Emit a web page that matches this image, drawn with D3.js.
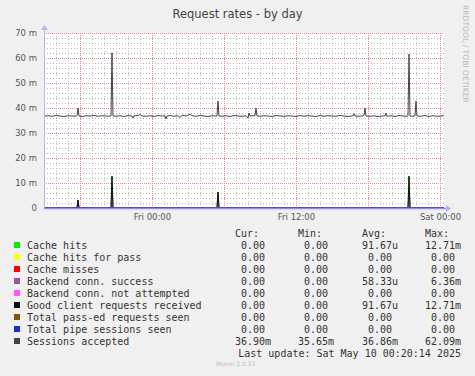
<!DOCTYPE html>
<html>
<head>
<meta charset="utf-8">
<script src="https://cdn.jsdelivr.net/npm/d3@7"></script>
<style>
  html, body { margin: 0; padding: 0; background: #f0f0f0; }
  svg { display: block; }
</style>
</head>
<body>
<svg id="chart"></svg>
<script>
// time axis: minutes after Thu 15:00, 5 min per sample
const startTime = new Date(2025, 4, 8, 15, 0);
const spanMinutes = 2000;

// Sessions accepted (values in milli req/s), [minute, value]
const sessionsAccepted = [
  [0,36.8],[20,36.9],[40,36.7],[60,37.0],[80,36.8],[100,36.6],[120,36.9],[140,36.8],[160,36.7],
  [165,36.9],[170,40.0],[175,36.8],[190,36.6],[210,36.9],[230,36.8],[250,37.0],[270,36.7],[290,36.9],
  [310,36.8],[330,36.7],[335,36.9],[340,62.09],[345,36.8],[360,36.7],[380,36.9],[400,36.6],[420,37.0],
  [440,36.8],[445,36.0],[450,36.9],[470,37.0],[480,37.4],[490,36.8],[510,36.7],[530,36.9],[550,36.6],
  [570,37.0],[590,36.8],[605,36.9],[610,35.65],[615,36.8],[630,37.0],[650,36.7],[670,36.9],[680,36.2],
  [690,37.1],[710,36.8],[730,37.5],[740,36.9],[760,36.7],[780,37.0],[800,36.8],[820,36.6],[840,36.9],
  [860,36.8],[865,36.9],[870,42.8],[875,36.8],[890,36.7],[910,36.9],[930,36.6],[950,37.0],[970,36.8],
  [990,36.7],[1010,36.9],[1020,36.0],[1025,38.0],[1030,36.8],[1045,36.9],[1055,37.0],[1060,40.0],
  [1065,36.8],[1080,36.7],[1100,36.9],[1120,36.8],[1140,36.6],[1160,37.0],[1180,36.8],[1200,36.7],
  [1220,36.9],[1240,36.8],[1260,36.6],[1280,37.0],[1300,36.7],[1320,36.9],[1340,36.8],[1360,36.6],
  [1380,37.0],[1400,36.7],[1420,36.9],[1440,36.8],[1460,36.7],[1480,37.0],[1500,36.8],[1520,36.6],
  [1545,36.9],[1550,37.7],[1555,36.8],[1575,36.7],[1595,36.9],[1600,37.1],[1605,40.0],[1610,36.8],
  [1630,36.7],[1650,36.9],[1670,36.6],[1690,36.8],[1705,36.9],[1710,38.0],[1715,36.7],[1735,36.9],
  [1755,36.6],[1775,37.0],[1795,36.8],[1815,36.7],[1820,36.9],[1825,61.6],[1830,36.8],[1840,36.7],
  [1855,36.9],[1860,42.8],[1865,36.8],[1885,36.7],[1905,37.0],[1925,36.6],[1945,36.9],[1965,36.7],
  [1985,36.8],[2000,36.9]
];

const clientRequests = [
  [0,0],[165,0],[170,3.2],[175,0],[335,0],[340,12.71],[345,0],[865,0],[870,6.36],[875,0],
  [1820,0],[1825,12.71],[1830,0],[2000,0]
];
const cacheHits = [
  [0,0],[165,0],[170,3.2],[175,0],[335,0],[340,12.71],[345,0],[865,0],[870,6.36],[875,0],
  [1820,0],[1825,12.71],[1830,0],[2000,0]
];
const backendConnSuccess = [
  [0,0],[165,0],[170,3.2],[175,0],[335,0],[340,6.36],[345,0],[865,0],[870,6.36],[875,0],
  [1820,0],[1825,6.36],[1830,0],[2000,0]
];
const flatZero = [[0,0],[2000,0]];

const seriesNames = [
  "Cache hits", "Cache hits for pass", "Cache misses", "Backend conn. success",
  "Backend conn. not attempted", "Good client requests received",
  "Total pass-ed requests seen", "Total pipe sessions seen", "Sessions accepted"
];
const seriesColors = [
  "#00ee00", "#ffff00", "#ff0000", "#995599", "#ff55ff", "#111111", "#7a5a0a", "#1d2bdf", "#444444"
];
const seriesData = [
  cacheHits, flatZero, flatZero, backendConnSuccess, flatZero,
  clientRequests, flatZero, flatZero, sessionsAccepted
];
const curValues = ["0.00","0.00","0.00","0.00","0.00","0.00","0.00","0.00","36.90m"];
const minValues = ["0.00","0.00","0.00","0.00","0.00","0.00","0.00","0.00","35.65m"];
const avgValues = ["91.67u","0.00","0.00","58.33u","0.00","91.67u","0.00","0.00","36.86m"];
const maxValues = ["12.71m","0.00","0.00","6.36m","0.00","12.71m","0.00","0.00","62.09m"];

const yTickValues = [0, 10, 20, 30, 40, 50, 60, 70];

const W = 475, H = 376;
const plot = { left: 44, right: 444, top: 33, bottom: 208 };

const svg = d3.select("#chart").attr("width", W).attr("height", H);
svg.append("rect").attr("width", W).attr("height", H).attr("fill", "#f0f0f0");

const x = d3.scaleTime()
  .domain([startTime, d3.timeMinute.offset(startTime, spanMinutes)])
  .range([plot.left, plot.right]);
const y = d3.scaleLinear().domain([0, 70]).range([plot.bottom, plot.top]);

// plot canvas
svg.append("rect")
  .attr("x", plot.left).attr("y", plot.top)
  .attr("width", plot.right - plot.left).attr("height", plot.bottom - plot.top)
  .attr("fill", "#ffffff");

const grid = svg.append("g");
const endTime = d3.timeMinute.offset(startTime, spanMinutes);

function hLines(values, color, dash) {
  grid.append("g").selectAll("line").data(values).join("line")
    .attr("x1", plot.left).attr("x2", plot.right)
    .attr("y1", d => Math.round(y(d)) + 0.5).attr("y2", d => Math.round(y(d)) + 0.5)
    .attr("stroke", color).attr("stroke-width", 1).attr("stroke-dasharray", dash);
}
function vLines(values, color, dash) {
  grid.append("g").selectAll("line").data(values).join("line")
    .attr("x1", d => Math.round(x(d)) + 0.5).attr("x2", d => Math.round(x(d)) + 0.5)
    .attr("y1", plot.top).attr("y2", plot.bottom)
    .attr("stroke", color).attr("stroke-width", 1).attr("stroke-dasharray", dash);
}

// minor grid: every 2 m and every hour
hLines(d3.range(2, 70, 2).filter(v => v % 10 !== 0), "#b4b4b4", "1,2");
vLines(d3.timeHour.every(1).range(startTime, endTime).filter(d => d.getHours() % 6 !== 0), "#c0c0c0", "1,2");
// major grid: every 10 m and every 6 hours
hLines(yTickValues.slice(1), "#e38d8d", "1,1");
vLines(d3.timeHour.every(6).range(startTime, endTime), "#e38d8d", "1,1");

// y labels
svg.append("g")
  .attr("transform", `translate(${plot.left},0)`)
  .call(d3.axisLeft(y).tickValues(yTickValues).tickSize(0).tickPadding(7)
    .tickFormat(d => d === 0 ? "0" : `${d} m`))
  .call(g => g.select(".domain").remove())
  .call(g => g.selectAll("text")
    .attr("font-family", "DejaVu Sans").attr("font-size", 8.5).attr("fill", "#555"));

// x labels
svg.append("g")
  .attr("transform", `translate(0,${plot.bottom})`)
  .call(d3.axisBottom(x).ticks(d3.timeHour.every(12)).tickSize(0).tickPadding(6)
    .tickFormat(d3.timeFormat("%a %H:%M")))
  .call(g => g.select(".domain").remove())
  .call(g => g.selectAll("text")
    .attr("font-family", "DejaVu Sans").attr("font-size", 8.5).attr("fill", "#555"));

// series lines
const line = d3.line()
  .x(d => x(d3.timeMinute.offset(startTime, d[0])))
  .y(d => y(d[1]));

const lines = svg.append("g");
seriesData.forEach((data, i) => {
  lines.append("path")
    .datum(data)
    .attr("fill", "none")
    .attr("stroke", seriesColors[i])
    .attr("stroke-width", 1)
    .attr("d", line);
});

// axes with arrows, drawn over the data like rrdtool does
const xAxisColor = "#8a8af0";
const yAxisColor = "#b4b4f2";
svg.append("line")
  .attr("x1", plot.left + 0.5).attr("x2", plot.left + 0.5)
  .attr("y1", plot.bottom).attr("y2", plot.top - 4)
  .attr("stroke", yAxisColor);
svg.append("path")
  .attr("d", `M${plot.left - 3},${plot.top - 3}L${plot.left + 0.5},${plot.top - 8}L${plot.left + 4},${plot.top - 3}Z`)
  .attr("fill", yAxisColor);
svg.append("line")
  .attr("x1", plot.left).attr("x2", plot.right + 3)
  .attr("y1", plot.bottom + 0.5).attr("y2", plot.bottom + 0.5)
  .attr("stroke", xAxisColor).attr("stroke-width", 1.3);
svg.append("path")
  .attr("d", `M${plot.right + 2},${plot.bottom - 3}L${plot.right + 7},${plot.bottom + 0.5}L${plot.right + 2},${plot.bottom + 4}Z`)
  .attr("fill", yAxisColor);

// title
svg.append("text")
  .attr("x", 237.5).attr("y", 18)
  .attr("text-anchor", "middle")
  .attr("font-family", "DejaVu Sans").attr("font-size", 11.5).attr("fill", "#444")
  .text("Request rates - by day");

// watermark
svg.append("text")
  .attr("transform", "translate(463,5) rotate(90)")
  .attr("font-family", "DejaVu Sans").attr("font-size", 7.6).attr("fill", "#b8b8b8")
  .text("RRDTOOL / TOBI OETIKER");

// legend
const mono = "DejaVu Sans Mono";
const legend = svg.append("g").attr("font-family", mono).attr("font-size", 10).attr("fill", "#333");
const colNumEnd = [265, 328, 392, 455];
const headers = ["Cur:", "Min:", "Avg:", "Max:"];
headers.forEach((t, i) => {
  legend.append("text").attr("x", colNumEnd[i] - 30).attr("y", 237).text(t);
});
const cols = [curValues, minValues, avgValues, maxValues];
seriesNames.forEach((name, i) => {
  const yy = 245 + i * 12;
  legend.append("rect")
    .attr("x", 14).attr("y", yy - 3).attr("width", 6).attr("height", 6)
    .attr("fill", seriesColors[i]);
  legend.append("text").attr("x", 27).attr("y", yy + 3.5).text(name);
  cols.forEach((vals, c) => {
    const s = vals[i];
    const unit = /[a-z]$/i.test(s) ? s.slice(-1) : "";
    const num = unit ? s.slice(0, -1) : s;
    legend.append("text").attr("x", colNumEnd[c]).attr("y", yy + 3.5)
      .attr("text-anchor", "end").text(num);
    if (unit) legend.append("text").attr("x", colNumEnd[c]).attr("y", yy + 3.5).text(unit);
  });
});
legend.append("text")
  .attr("x", 461).attr("y", 356.5).attr("text-anchor", "end")
  .text("Last update: Sat May 10 00:20:14 2025");

svg.append("text")
  .attr("x", 216).attr("y", 366)
  .attr("font-family", "DejaVu Sans").attr("font-size", 6).attr("fill", "#bbb")
  .text("Munin 2.0.33");
</script>
</body>
</html>
